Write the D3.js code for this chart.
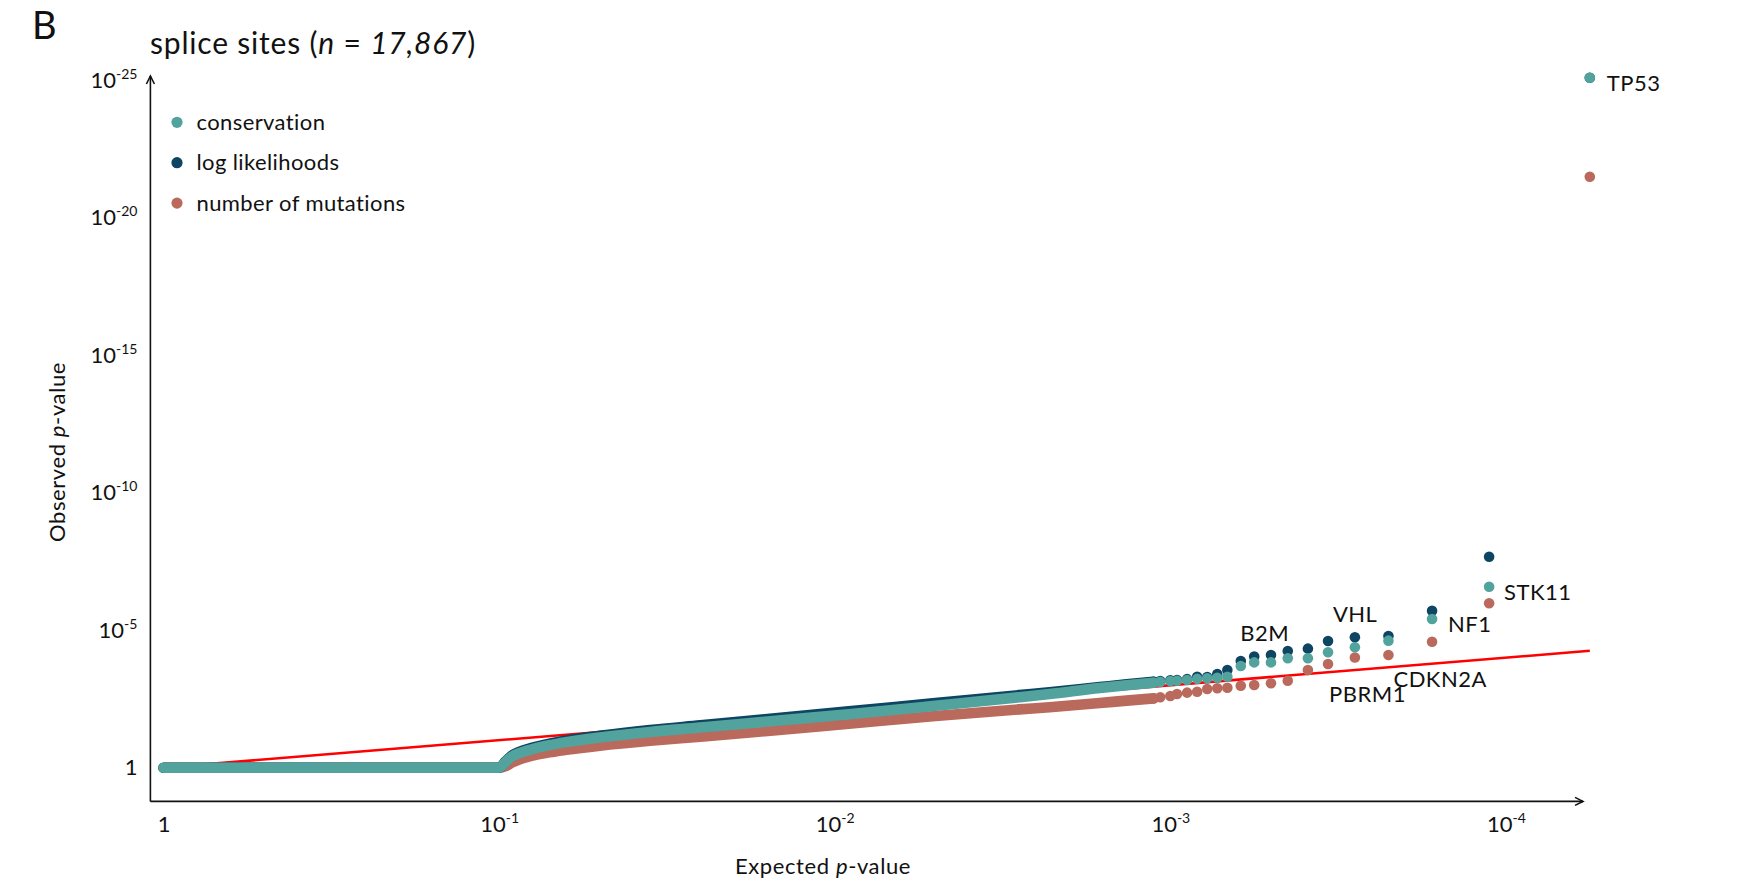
<!DOCTYPE html>
<html lang="en">
<head>
<meta charset="UTF-8">
<title>splice sites</title>
<script src="https://d3js.org/d3.v7.min.js"></script>
<style>
  body { margin: 0; background: #fff; }
  svg { display: block; font-family: Lato, "Open Sans", sans-serif; }
  text { fill: #111; }
</style>
</head>
<body>
<svg id="chart" width="1760" height="885"></svg>
<script>
// values are -log10(p)
const nSites = "17,867";
const seriesNames = ["conservation", "log likelihoods", "number of mutations"];
const seriesColors = ["#52a39d", "#0d4562", "#b96a5d"];

// dense part of the curves (read along the band)
const denseExpected     = [0, 1.0, 1.02, 1.04, 1.06, 1.1, 1.15, 1.2, 1.3, 1.45, 1.6, 1.8, 2.05, 2.3, 2.55, 2.64, 2.79, 2.87, 2.95];
const denseConservation = [0, 0, 0.22, 0.42, 0.53, 0.68, 0.82, 0.93, 1.10, 1.30, 1.46, 1.68, 1.95, 2.25, 2.56, 2.68, 2.90, 3.0, 3.09];
const denseLoglik       = [0, 0, 0.24, 0.46, 0.58, 0.73, 0.87, 0.99, 1.16, 1.37, 1.54, 1.77, 2.06, 2.35, 2.64, 2.74, 2.93, 3.03, 3.12];
const denseMutations    = [0, 0, 0.06, 0.2, 0.3, 0.44, 0.56, 0.65, 0.80, 0.98, 1.13, 1.34, 1.61, 1.88, 2.12, 2.20, 2.35, 2.44, 2.52];

// top 20 ranks, drawn one by one
const tailExpected     = [4.25, 3.95, 3.78, 3.65, 3.55, 3.47, 3.41, 3.35, 3.30, 3.25, 3.21, 3.17, 3.14, 3.11, 3.08, 3.05, 3.02, 3.00, 2.97, 2.95];
const tailConservation = [25.09, 6.58, 5.41, 4.62, 4.38, 4.20, 3.98, 3.98, 3.83, 3.83, 3.70, 3.31, 3.27, 3.25, 3.23, 3.19, 3.16, 3.15, 3.12, 3.09];
const tailLoglik       = [25.09, 7.67, 5.71, 4.79, 4.74, 4.61, 4.33, 4.24, 4.10, 4.04, 3.88, 3.55, 3.41, 3.30, 3.31, 3.22, 3.19, 3.18, 3.15, 3.12];
const tailMutations    = [21.49, 5.98, 4.58, 4.10, 4.01, 3.77, 3.55, 3.16, 3.07, 3.01, 2.98, 2.91, 2.89, 2.86, 2.76, 2.73, 2.68, 2.61, 2.56, 2.52];

// labelled genes and the rank they sit at
const genes     = ["TP53", "STK11", "NF1", "CDKN2A", "VHL", "PBRM1", "B2M"];
const geneRanks = [1, 2, 3, 4, 5, 6, 10];

const xTicks = [0, 1, 2, 3, 4];
const yTicks = [0, 5, 10, 15, 20, 25];

const svg = d3.select("#chart");

const x = d3.scaleLinear().domain([0, 4]).range([163.5, 163.5 + 4 * 335.6]);
const y = d3.scaleLinear().domain([0, 25]).range([767.7, 767.7 - 25 * 27.5]);

const axisX0 = 150.4, axisY0 = 801.4;
const r = 5.3;

// panel letter + title
svg.append("text").attr("x", 32).attr("y", 38.5).attr("font-size", 38).text("B");
const title = svg.append("text").attr("x", 150).attr("y", 54)
  .attr("font-size", 30).attr("letter-spacing", 0.8);
title.append("tspan").text("splice sites (");
title.append("tspan").attr("font-style", "italic").text("n");
title.append("tspan").text(" = ");
title.append("tspan").attr("font-style", "italic").text(nSites);
title.append("tspan").text(")");

// tick label with superscript exponent
function powLabel(sel, v) {
  sel.text(null);
  if (v === 0) { sel.append("tspan").text("1"); return; }
  sel.append("tspan").text("10");
  sel.append("tspan").attr("dy", -9).attr("font-size", 14).text("-" + v);
}

// axes (no tick marks, only labels)
const gy = svg.append("g").attr("transform", `translate(${axisX0},0)`)
  .call(d3.axisLeft(y).tickValues(yTicks).tickSize(0).tickPadding(13));
gy.select(".domain").remove();
gy.selectAll(".tick text").attr("font-size", 22).attr("font-family", "Lato")
  .attr("fill", "#111").each(function(d) { powLabel(d3.select(this), d); });

const gx = svg.append("g").attr("transform", `translate(0,${axisY0})`)
  .call(d3.axisBottom(x).tickValues(xTicks).tickSize(0).tickPadding(15));
gx.select(".domain").remove();
gx.selectAll(".tick text").attr("font-size", 22).attr("font-family", "Lato")
  .attr("fill", "#111").each(function(d) { powLabel(d3.select(this), d); });

// axis lines with open arrow heads
const ax = svg.append("g").attr("stroke", "#111").attr("stroke-width", 1.6).attr("fill", "none");
ax.append("line").attr("x1", axisX0).attr("x2", axisX0).attr("y1", axisY0).attr("y2", 76);
ax.append("path").attr("d", `M${axisX0 - 4},${84} L${axisX0},${76} L${axisX0 + 4},${84}`);
ax.append("line").attr("x1", axisX0).attr("x2", 1583).attr("y1", axisY0).attr("y2", axisY0);
ax.append("path").attr("d", `M${1575},${axisY0 - 4} L${1583},${axisY0} L${1575},${axisY0 + 4}`);

// axis titles
const xt = svg.append("text").attr("x", 823).attr("y", 874).attr("font-size", 22)
  .attr("letter-spacing", 0.6).attr("text-anchor", "middle");
xt.append("tspan").text("Expected ");
xt.append("tspan").attr("font-style", "italic").text("p");
xt.append("tspan").text("-value");
const yt = svg.append("text").attr("transform", "translate(65,452) rotate(-90)")
  .attr("font-size", 22).attr("letter-spacing", 0.6).attr("text-anchor", "middle");
yt.append("tspan").text("Observed ");
yt.append("tspan").attr("font-style", "italic").text("p");
yt.append("tspan").text("-value");

// expected = observed line
const diag = [0, tailExpected[0]];
svg.append("line")
  .attr("x1", x(diag[0])).attr("y1", y(diag[0]))
  .attr("x2", x(diag[1])).attr("y2", y(diag[1]))
  .attr("stroke", "#ff0000").attr("stroke-width", 2.6);

// draw order: mutations, log likelihoods, conservation on top
const dense = [denseConservation, denseLoglik, denseMutations];
const tails = [tailConservation, tailLoglik, tailMutations];
const line = d3.line().curve(d3.curveMonotoneX);

[2, 1, 0].forEach(i => {
  const pts = denseExpected.map((e, k) => [x(e), y(dense[i][k])]);
  svg.append("path").attr("d", line(pts))
    .attr("fill", "none").attr("stroke", seriesColors[i])
    .attr("stroke-width", 2 * r).attr("stroke-linecap", "round").attr("stroke-linejoin", "round");
  svg.append("g").selectAll("circle").data(tailExpected).join("circle")
    .attr("cx", d => x(d)).attr("cy", (d, k) => y(tails[i][k]))
    .attr("r", r).attr("fill", seriesColors[i]);
});

// gene labels, nudged off the conservation point
const nudge = { TP53: [17, 13], STK11: [15, 13], NF1: [16, 13], CDKN2A: [5, 46],
                VHL: [-22, -25], PBRM1: [1, 50], B2M: [-14, -21] };
genes.forEach((g, i) => {
  const k = geneRanks[i] - 1;
  svg.append("text")
    .attr("x", x(tailExpected[k]) + nudge[g][0])
    .attr("y", y(tailConservation[k]) + nudge[g][1])
    .attr("font-size", 22).attr("letter-spacing", 0.5).text(g);
});

// legend
const lg = svg.append("g");
seriesNames.forEach((s, i) => {
  const yy = 122.3 + i * 40.4;
  lg.append("circle").attr("cx", 177).attr("cy", yy).attr("r", r + 0.3).attr("fill", seriesColors[i]);
  lg.append("text").attr("x", 196.5).attr("y", yy + 7.5).attr("font-size", 22)
    .attr("letter-spacing", 0.4).text(s);
});
</script>
</body>
</html>
